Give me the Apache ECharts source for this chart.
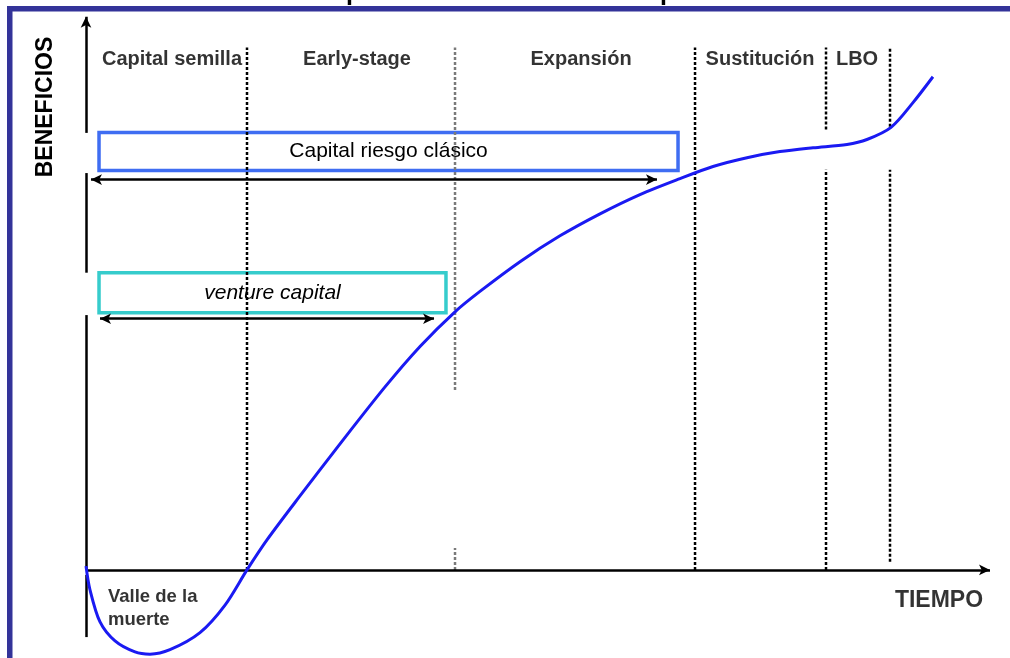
<!DOCTYPE html>
<html>
<head>
<meta charset="utf-8">
<script src="https://cdn.jsdelivr.net/npm/echarts@6/dist/echarts.min.js"></script>
<style>
  html, body { margin: 0; padding: 0; background: #fff; }
  #chart { width: 1010px; height: 658px; }
</style>
</head>
<body>
<div id="chart"></div>
<script>
// Curva de beneficios a lo largo del tiempo
const tiempo = [0, 0.44, 1.55, 3.21, 5.42, 7.08, 9.29, 12.61, 15.38, 17.81, 20.02, 23.67, 28.10, 33.08, 36.95,
  40.82, 43.58, 48.01, 52.43, 56.86, 61.28, 65.71, 69.36, 73.12, 76.77, 80.42, 84.18, 86.39, 89.05, 91.48, 93.69];
const beneficios = [0.7, -3.6, -9.45, -12.9, -14.9, -15.3, -14.5, -11.4, -6.4, 0, 5.45, 13.44, 22.9, 33.25, 40.6,
  46.9, 50.6, 56.0, 60.7, 64.7, 68.2, 71.1, 73.3, 74.9, 76.0, 76.7, 77.3, 78.2, 80.4, 84.9, 89.6];

// Etapas de financiación y sus fronteras
const etapas = ['Capital semilla', 'Early-stage', 'Expansión', 'Sustitución', 'LBO'];
const etapaCentro = [9.51, 29.98, 54.76, 74.56, 85.29];
const etapaAltura = 92.8;
const fronteras = [17.81, 40.82, 67.37, 81.86, 88.94];
// tramos visibles [desde, hasta] de cada frontera
const fronteraTramos = [
  [[0, 94.9]],
  [[32.7, 94.9], [0, 4.0]],
  [[0, 94.9]],
  [[0, 72.7], [80.0, 94.9]],
  [[1.5, 72.7], [80.5, 94.9]]
];

// Tipos de inversor: rango temporal [inicio, fin] y altura de la caja
const inversores = ['Capital riesgo clásico', 'venture capital'];
const inversorCaja = [[1.44, 65.49, 72.55, 79.45], [1.44, 39.82, 46.73, 54.0]];
const inversorFlecha = [[0.55, 63.16, 70.91], [1.55, 38.5, 45.64]];

// Ejes dibujados a mano (con huecos)
const ejeX = [0, 100];
const ejeYTramos = [[79.4, 100.5], [54.0, 72.1], [0, 46.3], [-12.2, -0.9]];

// Rótulos de texto
const valleTexto = 'Valle de la\nmuerte';
const vallePos = [2.43, -7.0];
const tiempoTexto = 'TIEMPO';
const tiempoPos = [94.36, -5.63];
const beneficiosTexto = 'BENEFICIOS';
const tituloTexto = 'Etapas de desarrollo de la empresa';

const FONT = "'Liberation Sans', Arial, sans-serif";
const chart = echarts.init(document.getElementById('chart'), null, { renderer: 'canvas' });

const series = [];

// fronteras de etapa punteadas
fronteras.forEach((x, i) => {
  fronteraTramos[i].forEach(t => {
    series.push({
      type: 'line', z: 2, silent: true, showSymbol: false,
      data: [[x, t[0]], [x, t[1]]],
      lineStyle: { color: i === 1 ? '#7a7a7a' : '#000', width: 2.5, type: [3, 2] }
    });
  });
});

// ejes
const ejeLineas = [
  [{ coord: [ejeX[0], 0], symbol: 'none' }, { coord: [ejeX[1], 0], symbol: 'arrow' }]
];
ejeYTramos.forEach((t, i) => {
  ejeLineas.push([
    { coord: [0, t[0]], symbol: 'none' },
    { coord: [0, t[1]], symbol: i === 0 ? 'arrow' : 'none' }
  ]);
});
series.push({
  type: 'line', z: 3, silent: true, data: [],
  markLine: {
    silent: true, symbolSize: [8, 11], label: { show: false },
    lineStyle: { color: '#000', width: 2.5, type: 'solid' },
    emphasis: { disabled: true },
    data: ejeLineas
  }
});

// cajas de tipos de inversor
const cajaColores = ['#3f6df2', '#36cccc'];
series.push({
  type: 'line', z: 5, silent: true, data: [],
  markArea: {
    silent: true,
    data: inversores.map((nombre, i) => [
      {
        name: nombre, coord: [inversorCaja[i][0], inversorCaja[i][3]],
        itemStyle: { color: '#fff', borderColor: cajaColores[i], borderWidth: 3.5, opacity: 1 },
        label: {
          show: true, position: 'inside', color: '#000', fontFamily: FONT,
          fontSize: 21, fontStyle: i === 0 ? 'normal' : 'italic'
        }
      },
      { coord: [inversorCaja[i][1], inversorCaja[i][2]] }
    ])
  }
});

// flechas de alcance
series.push({
  type: 'line', z: 6, silent: true, data: [],
  markLine: {
    silent: true, symbol: ['arrow', 'arrow'], symbolSize: [8, 11], label: { show: false },
    lineStyle: { color: '#000', width: 2.5, type: 'solid' },
    emphasis: { disabled: true },
    data: inversorFlecha.map(f => [{ coord: [f[0], f[2]] }, { coord: [f[1], f[2]] }])
  }
});

// curva de beneficios
series.push({
  type: 'line', z: 10, silent: true, smooth: 0.3, showSymbol: false,
  data: tiempo.map((t, i) => [t, beneficios[i]]),
  lineStyle: { color: '#1a1af2', width: 3 }
});

// rótulos de etapa y anotaciones
const rotulo = { fontFamily: FONT, fontWeight: 'bold', color: '#000' };
series.push({
  type: 'scatter', z: 12, silent: true, symbolSize: 0,
  data: etapas.map((e, i) => ({ name: e, value: [etapaCentro[i], etapaAltura] })),
  label: { show: true, position: 'inside', formatter: '{b}', fontSize: 20, ...rotulo }
});
series.push({
  type: 'scatter', z: 12, silent: true, symbolSize: 0,
  data: [{ name: valleTexto, value: vallePos }],
  label: { show: true, position: 'inside', align: 'left', formatter: '{b}', fontSize: 18.5, lineHeight: 23, ...rotulo }
});
series.push({
  type: 'scatter', z: 12, silent: true, symbolSize: 0,
  data: [{ name: tiempoTexto, value: tiempoPos }],
  label: { show: true, position: 'inside', formatter: '{b}', fontSize: 23, ...rotulo }
});

const option = {
  animation: false,
  backgroundColor: '#fff',
  grid: { left: 86, right: 20, top: 14, bottom: 0 },
  xAxis: { type: 'value', min: 0, max: 100, show: false },
  yAxis: { type: 'value', min: -16, max: 101, show: false },
  graphic: [
    {
      type: 'text', x: 517, y: -19, z: 1,
      style: { text: tituloTexto, font: "bold 25px " + FONT, fill: '#000', align: 'center', verticalAlign: 'top' }
    },
    { type: 'rect', left: 7, top: 6, z: 20, shape: { width: 1003, height: 5.5 }, style: { fill: '#333399' } },
    { type: 'rect', left: 7, top: 6, z: 20, shape: { width: 5.5, height: 652 }, style: { fill: '#333399' } },
    {
      type: 'text', x: 45.5, y: 107, rotation: Math.PI / 2, z: 20,
      style: { text: beneficiosTexto, font: "bold 23px " + FONT, fill: '#000', align: 'center', verticalAlign: 'middle' }
    }
  ],
  series: series
};
chart.setOption(option);
</script>
</body>
</html>
